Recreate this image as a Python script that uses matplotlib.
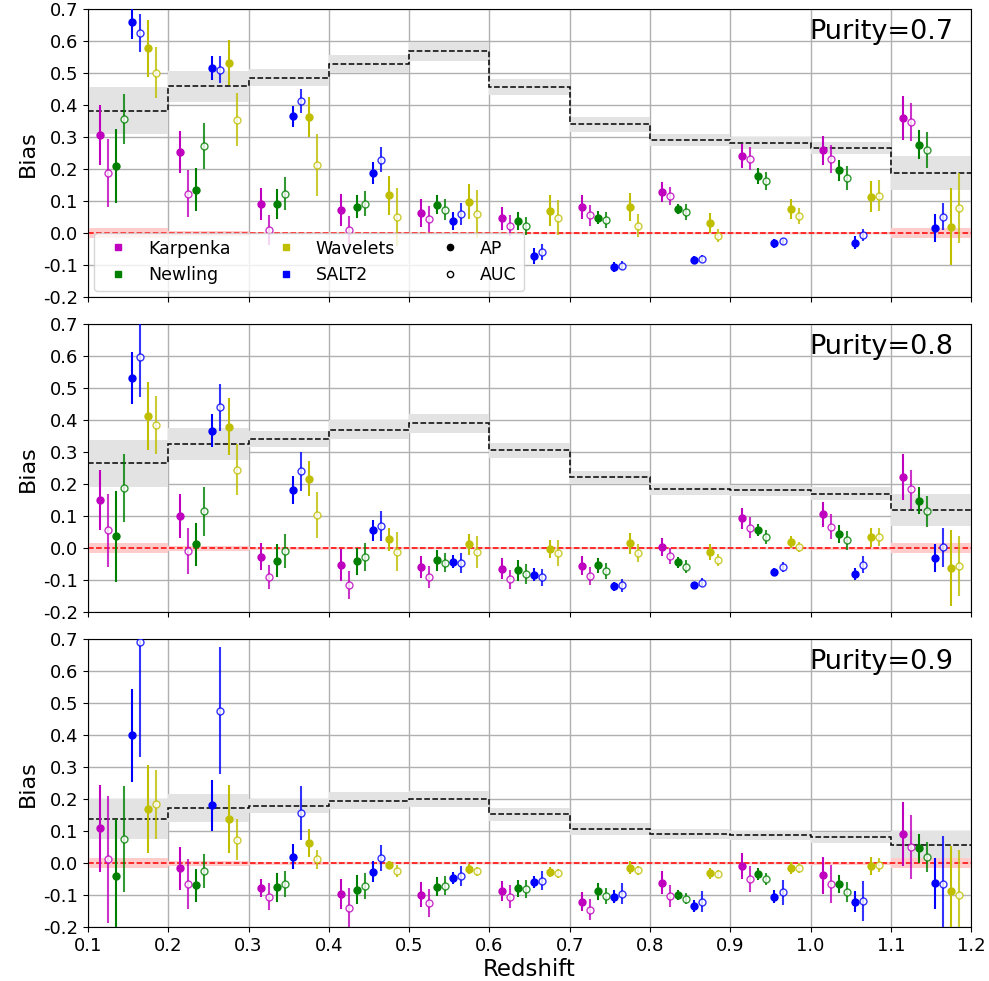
import numpy as np
import matplotlib
matplotlib.use("Agg")
import matplotlib.pyplot as plt
from matplotlib.lines import Line2D

plt.rcParams["axes.unicode_minus"] = False

edges = [0.1, 0.2, 0.3, 0.4, 0.5, 0.6, 0.7, 0.8, 0.9, 1.0, 1.1, 1.2]
classifiers = ["Karpenka", "Newling", "SALT2", "Wavelets"]
colors = {"Karpenka": "m", "Newling": "g", "SALT2": "b", "Wavelets": "y"}
purities = ["0.7", "0.8", "0.9"]

# ---------------- Purity = 0.7 ----------------
p07_ap = {
    "Karpenka": [0.306, 0.253, 0.092, 0.072, 0.062, 0.046, 0.081, 0.130, 0.242, 0.259, 0.360],
    "Newling":  [0.209, 0.136, 0.092, 0.082, 0.089, 0.038, 0.049, 0.076, 0.179, 0.196, 0.277],
    "SALT2":    [0.659, 0.517, 0.365, 0.188, 0.038, -0.071, -0.105, -0.083, -0.032, -0.029, 0.017],
    "Wavelets": [0.577, 0.533, 0.363, 0.118, 0.099, 0.070, 0.081, 0.033, 0.075, 0.114, 0.020],
}
p07_ap_err = {
    "Karpenka": [0.093, 0.065, 0.050, 0.051, 0.044, 0.036, 0.037, 0.031, 0.038, 0.045, 0.069],
    "Newling":  [0.116, 0.067, 0.047, 0.036, 0.030, 0.027, 0.021, 0.016, 0.025, 0.034, 0.046],
    "SALT2":    [0.051, 0.038, 0.033, 0.033, 0.028, 0.024, 0.015, 0.013, 0.013, 0.021, 0.043],
    "Wavelets": [0.089, 0.070, 0.063, 0.062, 0.055, 0.048, 0.044, 0.031, 0.031, 0.048, 0.120],
}
p07_auc = {
    "Karpenka": [0.188, 0.124, 0.009, 0.009, 0.045, 0.024, 0.056, 0.116, 0.232, 0.232, 0.347],
    "Newling":  [0.358, 0.273, 0.123, 0.092, 0.074, 0.022, 0.041, 0.065, 0.163, 0.172, 0.259],
    "SALT2":    [0.626, 0.511, 0.413, 0.229, 0.060, -0.059, -0.101, -0.079, -0.025, -0.005, 0.051],
    "Wavelets": [0.502, 0.354, 0.213, 0.051, 0.059, 0.049, 0.024, -0.008, 0.054, 0.117, 0.078],
}
p07_auc_err = {
    "Karpenka": [0.105, 0.074, 0.047, 0.045, 0.040, 0.032, 0.033, 0.029, 0.036, 0.043, 0.059],
    "Newling":  [0.078, 0.071, 0.052, 0.039, 0.033, 0.028, 0.025, 0.025, 0.029, 0.038, 0.056],
    "SALT2":    [0.059, 0.043, 0.038, 0.039, 0.033, 0.026, 0.015, 0.012, 0.011, 0.018, 0.042],
    "Wavelets": [0.080, 0.083, 0.097, 0.090, 0.075, 0.055, 0.037, 0.020, 0.025, 0.048, 0.110],
}
p07_truth = [0.383, 0.459, 0.486, 0.529, 0.568, 0.456, 0.340, 0.290, 0.281, 0.266, 0.188]
p07_truth_err = [0.073, 0.048, 0.026, 0.029, 0.029, 0.025, 0.023, 0.019, 0.019, 0.020, 0.054]

# ---------------- Purity = 0.8 ----------------
p08_ap = {
    "Karpenka": [0.151, 0.100, -0.026, -0.052, -0.059, -0.064, -0.054, 0.004, 0.094, 0.106, 0.223],
    "Newling":  [0.038, 0.012, -0.039, -0.040, -0.038, -0.069, -0.053, -0.043, 0.056, 0.046, 0.149],
    "SALT2":    [0.533, 0.368, 0.182, 0.056, -0.042, -0.082, -0.119, -0.116, -0.073, -0.080, -0.030],
    "Wavelets": [0.413, 0.380, 0.217, 0.028, 0.013, -0.003, 0.016, -0.013, 0.019, 0.035, -0.062],
}
p08_ap_err = {
    "Karpenka": [0.094, 0.069, 0.043, 0.049, 0.035, 0.033, 0.030, 0.028, 0.033, 0.040, 0.073],
    "Newling":  [0.142, 0.067, 0.052, 0.042, 0.033, 0.034, 0.023, 0.017, 0.019, 0.028, 0.042],
    "SALT2":    [0.081, 0.053, 0.044, 0.032, 0.021, 0.021, 0.015, 0.012, 0.010, 0.019, 0.044],
    "Wavelets": [0.107, 0.090, 0.055, 0.035, 0.033, 0.028, 0.033, 0.025, 0.018, 0.030, 0.119],
}
p08_auc = {
    "Karpenka": [0.056, -0.009, -0.090, -0.114, -0.090, -0.097, -0.087, -0.024, 0.064, 0.068, 0.184],
    "Newling":  [0.188, 0.115, -0.009, -0.027, -0.045, -0.080, -0.071, -0.057, 0.035, 0.025, 0.115],
    "SALT2":    [0.597, 0.440, 0.240, 0.069, -0.047, -0.091, -0.116, -0.107, -0.059, -0.051, 0.003],
    "Wavelets": [0.386, 0.246, 0.105, -0.010, -0.012, -0.015, -0.016, -0.036, 0.005, 0.035, -0.055],
}
p08_auc_err = {
    "Karpenka": [0.114, 0.071, 0.038, 0.043, 0.034, 0.030, 0.028, 0.025, 0.033, 0.040, 0.060],
    "Newling":  [0.107, 0.076, 0.053, 0.045, 0.030, 0.032, 0.024, 0.019, 0.022, 0.030, 0.048],
    "SALT2":    [0.125, 0.073, 0.060, 0.046, 0.031, 0.026, 0.019, 0.014, 0.016, 0.026, 0.060],
    "Wavelets": [0.090, 0.081, 0.072, 0.060, 0.050, 0.040, 0.028, 0.019, 0.016, 0.028, 0.095],
}
p08_truth = [0.265, 0.326, 0.341, 0.371, 0.390, 0.306, 0.222, 0.184, 0.181, 0.170, 0.120]
p08_truth_err = [0.074, 0.050, 0.026, 0.029, 0.029, 0.023, 0.021, 0.018, 0.018, 0.020, 0.050]

# ---------------- Purity = 0.9 ----------------
p09_ap = {
    "Karpenka": [0.110, -0.016, -0.077, -0.096, -0.098, -0.087, -0.120, -0.060, -0.008, -0.038, 0.093],
    "Newling":  [-0.041, -0.069, -0.075, -0.082, -0.073, -0.078, -0.088, -0.100, -0.034, -0.066, 0.047],
    "SALT2":    [0.400, 0.181, 0.021, -0.026, -0.045, -0.058, -0.104, -0.133, -0.104, -0.120, -0.063],
    "Wavelets": [0.170, 0.139, 0.064, -0.005, -0.018, -0.028, -0.014, -0.031, -0.015, -0.009, -0.087],
}
p09_ap_err = {
    "Karpenka": [0.136, 0.066, 0.029, 0.047, 0.040, 0.032, 0.030, 0.036, 0.041, 0.057, 0.100],
    "Newling":  [0.178, 0.052, 0.045, 0.044, 0.030, 0.027, 0.026, 0.016, 0.018, 0.028, 0.045],
    "SALT2":    [0.145, 0.079, 0.040, 0.032, 0.019, 0.019, 0.021, 0.018, 0.020, 0.033, 0.079],
    "Wavelets": [0.138, 0.107, 0.044, 0.013, 0.015, 0.015, 0.020, 0.017, 0.018, 0.029, 0.140],
}
p09_auc = {
    "Karpenka": [0.012, -0.065, -0.104, -0.139, -0.125, -0.104, -0.145, -0.103, -0.049, -0.065, 0.051],
    "Newling":  [0.076, -0.024, -0.065, -0.071, -0.070, -0.079, -0.102, -0.110, -0.049, -0.089, 0.019],
    "SALT2":    [0.691, 0.477, 0.158, 0.017, -0.039, -0.054, -0.095, -0.120, -0.091, -0.118, -0.066],
    "Wavelets": [0.184, 0.074, 0.013, -0.025, -0.025, -0.031, -0.022, -0.033, -0.015, -0.006, -0.099],
}
p09_auc_err = {
    "Karpenka": [0.198, 0.079, 0.043, 0.063, 0.044, 0.035, 0.033, 0.035, 0.041, 0.060, 0.100],
    "Newling":  [0.167, 0.052, 0.040, 0.040, 0.030, 0.028, 0.026, 0.017, 0.018, 0.032, 0.047],
    "SALT2":    [0.360, 0.199, 0.085, 0.041, 0.031, 0.029, 0.033, 0.032, 0.038, 0.062, 0.150],
    "Wavelets": [0.108, 0.065, 0.030, 0.019, 0.014, 0.014, 0.015, 0.013, 0.015, 0.022, 0.140],
}
p09_truth = [0.138, 0.174, 0.179, 0.196, 0.201, 0.153, 0.107, 0.091, 0.087, 0.082, 0.057]
p09_truth_err = [0.063, 0.044, 0.023, 0.027, 0.026, 0.020, 0.019, 0.015, 0.015, 0.017, 0.044]

zero_err = [0.016, 0.008, 0.004, 0.003, 0.003, 0.003, 0.003, 0.003, 0.003, 0.004, 0.016]

panels = [
    (p07_ap, p07_ap_err, p07_auc, p07_auc_err, p07_truth, p07_truth_err),
    (p08_ap, p08_ap_err, p08_auc, p08_auc_err, p08_truth, p08_truth_err),
    (p09_ap, p09_ap_err, p09_auc, p09_auc_err, p09_truth, p09_truth_err),
]

fig = plt.figure(figsize=(9.89, 9.81), dpi=100)
left, width = 0.089, 0.893
bottoms = [0.697, 0.3758, 0.0547]
height = 0.2937
edges_arr = np.array(edges)
zlo = edges_arr[:-1]

for pi, (ap, ap_err, auc, auc_err, truth, truth_err) in enumerate(panels):
    ax = fig.add_axes([left, bottoms[pi], width, height])
    ax.set_axisbelow(True)
    ax.grid(True, color="#b0b0b0", linewidth=1.0)
    t = np.array(truth)
    te = np.array(truth_err)
    ze = np.array(zero_err)
    ax.stairs(t + te, edges_arr, baseline=t - te, fill=True, color="#e3e3e3", zorder=1)
    ax.stairs(ze, edges_arr, baseline=-ze, fill=True, color="#ffcccc", zorder=1)
    ax.stairs(t, edges_arr, baseline=None, color="k", linestyle="--", linewidth=1.1, zorder=2)
    ax.axhline(0, color="r", linestyle="--", linewidth=1.1, zorder=2)
    for ci, name in enumerate(classifiers):
        c = colors[name]
        x_ap = zlo + 0.015 + 0.02 * ci
        x_auc = zlo + 0.025 + 0.02 * ci
        ax.errorbar(x_ap, ap[name], yerr=ap_err[name], fmt="o", color=c,
                    markersize=5, elinewidth=1.5, capsize=0, zorder=3)
        ax.errorbar(x_auc, auc[name], yerr=auc_err[name], fmt="o", color=c,
                    mfc="white", mec=c, markersize=5, elinewidth=1.5, capsize=0,
                    alpha=0.8, zorder=3)
    ax.set_xlim(0.1, 1.2)
    ax.set_ylim(-0.2, 0.7)
    ax.set_xticks(edges)
    ax.set_yticks(np.round(np.arange(-0.2, 0.71, 0.1), 1))
    ax.tick_params(labelsize=13)
    ax.set_ylabel("Bias", fontsize=16)
    if pi < 2:
        ax.set_xticklabels([])
    else:
        ax.set_xticklabels([f"{v:.1f}" for v in edges])
        ax.set_xlabel("Redshift", fontsize=16.5, labelpad=2)
    ax.text(0.98, 0.965, "Purity=" + purities[pi], transform=ax.transAxes,
            ha="right", va="top", fontsize=19.5)
    if pi == 0:
        handles = [
            Line2D([], [], marker="s", color="m", linestyle="none", markersize=4.5),
            Line2D([], [], marker="s", color="g", linestyle="none", markersize=4.5),
            Line2D([], [], marker="s", color="y", linestyle="none", markersize=4.5),
            Line2D([], [], marker="s", color="b", linestyle="none", markersize=4.5),
            Line2D([], [], marker="o", color="k", linestyle="none", markersize=4.5),
            Line2D([], [], marker="o", color="k", mfc="white", linestyle="none", markersize=4.5),
        ]
        labels = ["Karpenka", "Newling", "Wavelets", "SALT2", "AP", "AUC"]
        ax.legend(handles, labels, loc="lower left", ncol=3, fontsize=12.5,
                  framealpha=0.8, handletextpad=0.7, columnspacing=2.2,
                  borderaxespad=0.35)

fig.savefig("out.png", dpi=100)
